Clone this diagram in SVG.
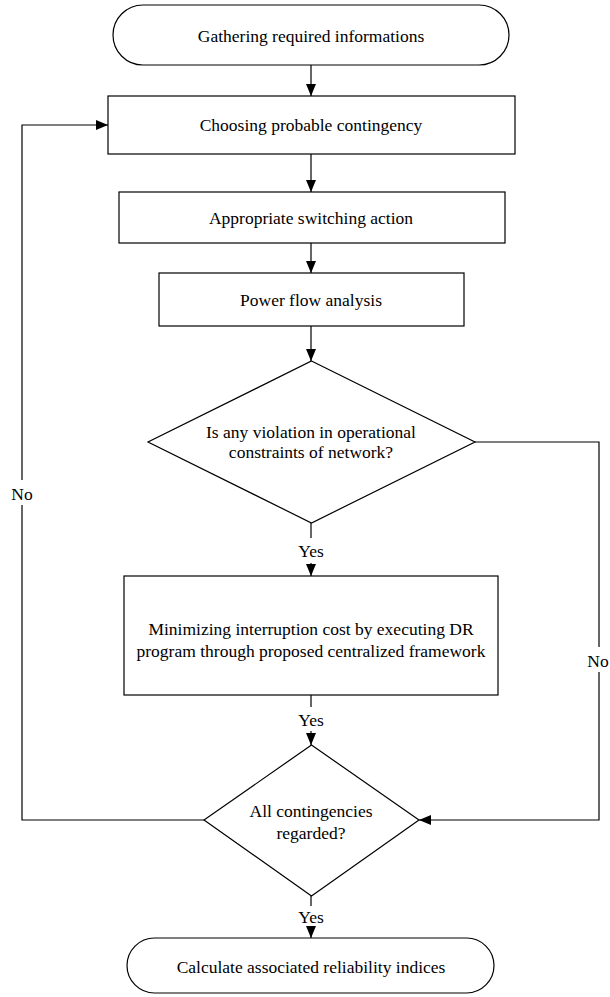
<svg xmlns="http://www.w3.org/2000/svg" width="610" height="997" viewBox="0 0 610 997" font-family="Liberation Serif, Times New Roman, serif">
<style>
.s{fill:#fff;stroke:#000;stroke-width:1.2}
.c{fill:none;stroke:#000;stroke-width:1.2}
text{font-family:'Liberation Serif',Tinos,'Times New Roman','DejaVu Serif',serif;font-size:17.5px;fill:#000;text-anchor:middle}
</style>
<defs>
<marker id="ah" viewBox="0 0 12 12" refX="12" refY="6" markerWidth="12" markerHeight="12" markerUnits="userSpaceOnUse" orient="auto">
<path d="M0,1 L12,6 L0,11 Z" fill="#000"/>
</marker>
</defs>
<rect width="610" height="997" fill="#fff"/>
<g id="connectors">
<line class="c" x1="311" y1="65" x2="311" y2="96" marker-end="url(#ah)"/>
<line class="c" x1="311" y1="154" x2="311" y2="192" marker-end="url(#ah)"/>
<line class="c" x1="311" y1="243" x2="311" y2="273" marker-end="url(#ah)"/>
<line class="c" x1="311" y1="326" x2="311" y2="361" marker-end="url(#ah)"/>
<line class="c" x1="311" y1="523" x2="311" y2="538"/>
<text x="311" y="557">Yes</text>
<line class="c" x1="311" y1="563" x2="311" y2="576" marker-end="url(#ah)"/>
<line class="c" x1="311" y1="695" x2="311" y2="707"/>
<text x="311" y="726">Yes</text>
<line class="c" x1="311" y1="731" x2="311" y2="745" marker-end="url(#ah)"/>
<line class="c" x1="311" y1="896" x2="311" y2="906"/>
<text x="311" y="923">Yes</text>
<line class="c" x1="311" y1="927" x2="311" y2="938" marker-end="url(#ah)"/>
<polyline class="c" points="475,442 599,442 599,647"/>
<text x="598" y="667">No</text>
<polyline class="c" points="599,672 599,820 419,820" marker-end="url(#ah)"/>
<polyline class="c" points="204,820 22,820 22,505"/>
<text x="22" y="500">No</text>
<polyline class="c" points="22,480 22,125 108,125" marker-end="url(#ah)"/>
</g>
<g id="start">
<rect class="s" x="113" y="5" width="396" height="60" rx="30" ry="30"/>
<text x="311" y="42">Gathering required informations</text>
</g>
<g id="choose">
<rect class="s" x="108" y="96" width="407" height="58"/>
<text x="311" y="131">Choosing probable contingency</text>
</g>
<g id="switching">
<rect class="s" x="119" y="192" width="386" height="51"/>
<text x="311" y="224">Appropriate switching action</text>
</g>
<g id="powerflow">
<rect class="s" x="159" y="273" width="305" height="53"/>
<text x="311" y="306">Power flow analysis</text>
</g>
<g id="violation">
<polygon class="s" points="311.5,361 475,442 311.5,523 148,442"/>
<text x="311" y="438">Is any violation in operational</text>
<text x="311" y="458">constraints of network?</text>
</g>
<g id="minimize">
<rect class="s" x="124" y="576" width="374" height="119"/>
<text x="311" y="635">Minimizing interruption cost by executing DR</text>
<text x="311" y="657">program through proposed centralized framework</text>
</g>
<g id="allcont">
<polygon class="s" points="311.5,745 419,820 311.5,896 204,820"/>
<text x="311" y="817">All contingencies</text>
<text x="311" y="839">regarded?</text>
</g>
<g id="end">
<rect class="s" x="127" y="938" width="367" height="55" rx="27.5" ry="27.5"/>
<text x="311" y="973">Calculate associated reliability indices</text>
</g>
</svg>
